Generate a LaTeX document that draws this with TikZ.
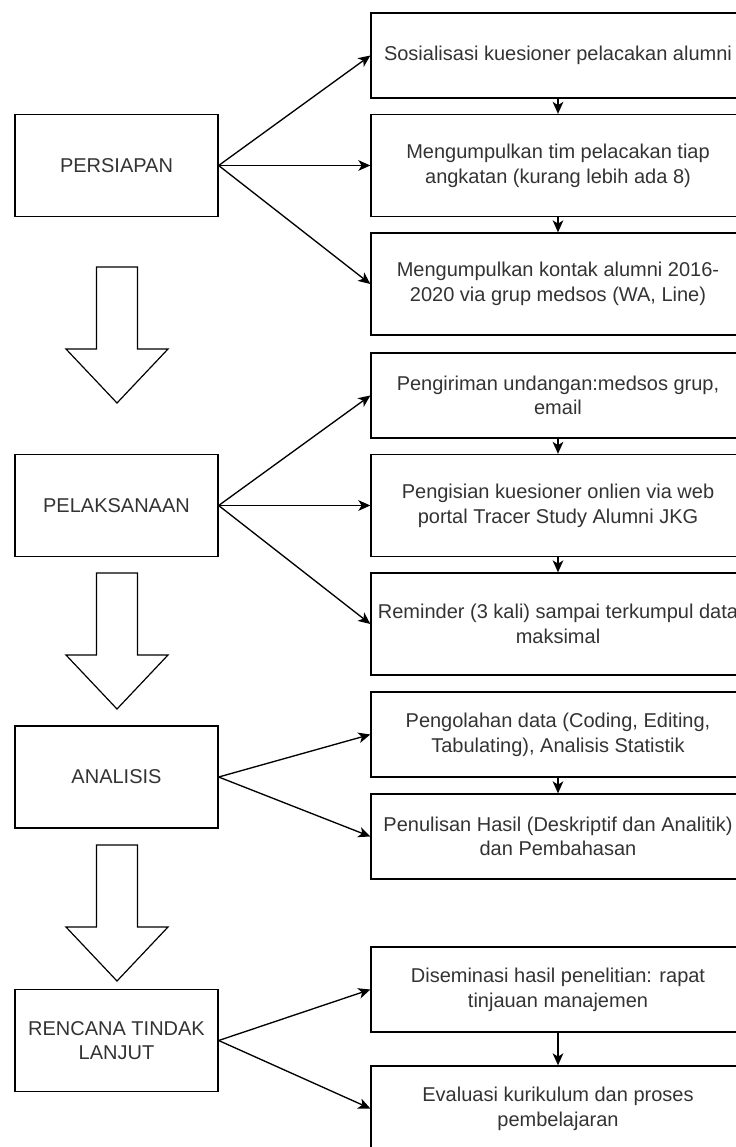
\documentclass[tikz,border=0pt]{standalone}
\usepackage{fontspec}
\setmainfont{Liberation Sans}
\usetikzlibrary{arrows.meta}

% hollow arrow between two phases, #1 = top of the shaft
\newcommand{\PhaseArrow}[1]{%
\draw[bigarrow] (96.5,#1)--(137.5,#1)--(137.5,#1+82)--(168,#1+82)--
	(117,#1+136)--(66,#1+82)--(96.5,#1+82)--cycle;}

\begin{document}
\begin{tikzpicture}[x=0.75pt,y=-0.75pt,
	phase/.style={draw,line width=1pt,inner sep=0,align=center,
		minimum width=152.25pt,minimum height=76.5pt,text=black!80,
		font=\fontsize{15}{18.5}\selectfont},
	task/.style={phase,minimum width=280.5pt,minimum height=63.75pt},
	tall/.style={minimum height=76.5pt},
	link/.style={-{Stealth[length=9pt,width=8pt,inset=2.5pt]},line width=1pt},
	bigarrow/.style={draw,line width=0.9pt,fill=white}]
\useasboundingbox (0,0) rectangle (736,1147);
\clip (0,0) rectangle (736,1147);

% phases
\node[phase] (persiapan) at (116.5,165.5) {PERSIAPAN};
\node[phase] (pelaksanaan) at (116.5,505.5) {PELAKSANAAN};
\node[phase] (analisis) at (116.5,777) {ANALISIS};
\node[phase] (rencana) at (116.5,1040.5) {RENCANA TINDAK\\LANJUT};

\PhaseArrow{267}
\PhaseArrow{573}
\PhaseArrow{845}

% tasks
\node[task] (sosialisasi) at (558,55.5) {Sosialisasi kuesioner pelacakan alumni};
\node[task,tall] (tim) at (558,165.5) {Mengumpulkan tim pelacakan tiap\\angkatan (kurang lebih ada 8)};
\node[task,tall] (kontak) at (558,284) {Mengumpulkan kontak alumni 2016-\\2020 via grup medsos (WA, Line)};
\node[task] (undangan) at (558,395.5) {Pengiriman undangan:medsos grup,\\email};
\node[task,tall] (pengisian) at (558,505.5) {Pengisian kuesioner onlien via web\\portal Tracer Study Alumni JKG};
\node[task,tall] (reminder) at (558,624) {Reminder (3 kali) sampai terkumpul data\\maksimal};
\node[task] (pengolahan) at (558,734.5) {Pengolahan data (Coding, Editing,\\Tabulating), Analisis Statistik};
\node[task] (penulisan) at (558,836.5) {Penulisan Hasil (Deskriptif dan Analitik)\\dan Pembahasan};
\node[task] (diseminasi) at (558,989.5) {Diseminasi hasil penelitian: rapat\\tinjauan manajemen};
\node[task] (evaluasi) at (558,1108.5) {Evaluasi kurikulum dan proses\\pembelajaran};

% connectors
\foreach \from/\to in {persiapan/sosialisasi,persiapan/tim,persiapan/kontak,
	pelaksanaan/undangan,pelaksanaan/pengisian,pelaksanaan/reminder,
	analisis/pengolahan,analisis/penulisan,rencana/diseminasi,rencana/evaluasi}
	\draw[link] (\from.east)--(\to.west);
\foreach \from/\to in {sosialisasi/tim,tim/kontak,undangan/pengisian,
	pengisian/reminder,pengolahan/penulisan,diseminasi/evaluasi}
	\draw[link] (\from.south)--(\to.north);
\end{tikzpicture}
\end{document}
